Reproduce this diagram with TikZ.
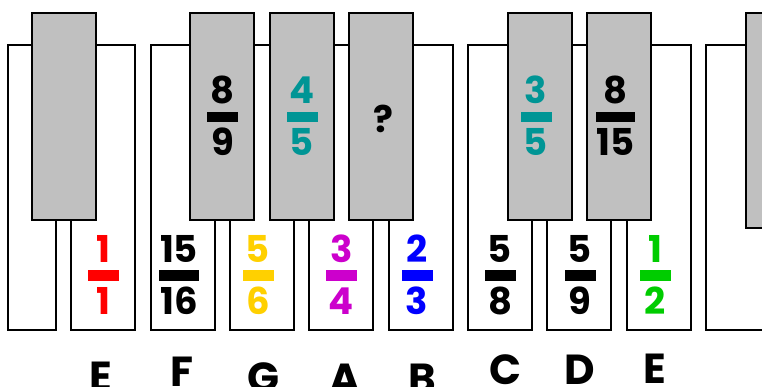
\documentclass[tikz,border=0pt]{standalone}
\usepackage{fontspec}
\setmainfont{Poppins}
\usetikzlibrary{calc}

\definecolor{keygrey}{HTML}{C0C0C0}
\definecolor{ratiored}{HTML}{FF0000}
\definecolor{ratiogold}{HTML}{FFD000}
\definecolor{ratiomagenta}{HTML}{CC00CC}
\definecolor{ratioblue}{HTML}{0000FF}
\definecolor{ratiogreen}{HTML}{00CC00}
\definecolor{ratioteal}{HTML}{009595}

\tikzset{
    whitekey/.style={draw=black, line width=2.7pt, fill=white},
    blackkey/.style={draw=black, line width=2.7pt, fill=keygrey},
    digit/.style={font=\fontsize{37}{40}\selectfont\bfseries, inner sep=0pt, anchor=base},
    note/.style={font=\fontsize{42}{44}\selectfont\bfseries, inner sep=0pt, anchor=base},
    bar/.style={inner sep=0pt, minimum height=10.5pt}
}

\begin{document}
\begin{tikzpicture}[x=1pt, y=-1pt]
        \useasboundingbox (0,0) rectangle (762,387);
        \clip (0,0) rectangle (762,387);

        % white keys
        \draw[whitekey] (8,45) rectangle (56,330);
        \foreach \x in {71,151,230,309,389,468,547,627,706}
            \draw[whitekey] (\x,45) rectangle ++(64,285);

        % black keys
        \foreach \x in {32,190,270,349,508,587}
            \draw[blackkey] (\x,13) rectangle ++(64,207);
        \draw[blackkey] (746,13) rectangle ++(64,215);

        % ratios
        \foreach \nm/\x/\y/\n/\d/\c/\w in {
            e/103.5/275.5/1/1/ratiored/31,
            f/179/275.5/15/16/black/40,
            g/258/275.5/5/6/ratiogold/31,
            a/341.5/275.5/3/4/ratiomagenta/31,
            b/417/275.5/2/3/ratioblue/31,
            c/500/275.5/5/8/black/31,
            d/580/275.5/5/9/black/31,
            ee/655/275.5/1/2/ratiogreen/31,
            fs/222.5/117/8/9/black/31,
            gs/302/117/4/5/ratioteal/31,
            cs/536/117/3/5/ratioteal/31,
            ds/615.5/117/8/15/black/39}
        {
            \node[bar, fill=\c, minimum width=\w] (r-\nm) at (\x,\y) {};
            \node[digit, text=\c] (r-\nm-n) at ($(r-\nm)+(0,-13)$) {\n};
            \node[digit, text=\c] (r-\nm-d) at ($(r-\nm)+(0,39)$) {\d};
        }
        \node[digit] (q) at (383,133) {?};

        % note names
        \foreach \nm/\x/\y in {E/101/391,F/182/386,G/263/392,A/345/393,B/422/393,C/505/384,D/580/384,E/655/383}
            \node[note] (n-\x) at (\x,\y) {\nm};

    \end{tikzpicture}
\end{document}
